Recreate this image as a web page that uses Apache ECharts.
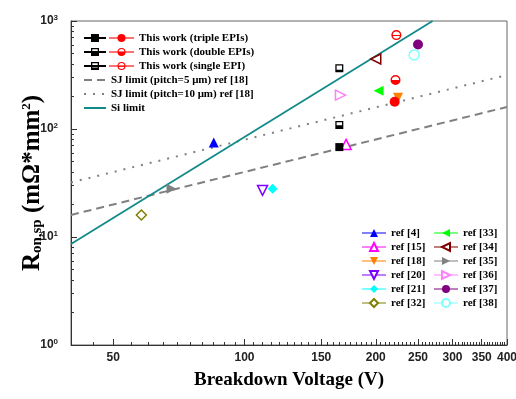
<!DOCTYPE html>
<html>
<head>
<meta charset="utf-8">
<script src="https://cdn.jsdelivr.net/npm/echarts@6/dist/echarts.min.js"></script>
<style>
  html, body { margin: 0; padding: 0; background: #fff; }
  #chart { width: 516px; height: 399px; }
</style>
</head>
<body>
<div id="chart"></div>
<script>
// values: [breakdown voltage (V), Ron,sp (mOhm*mm2)]
const xTicks = [50, 100, 150, 200, 250, 300, 350, 400];
const yTicks = [1, 10, 100, 1000];

const sqTriple = [165, 68];
const sqDouble = [165, 109];
const sqSingle = [165, 365];
const ciTriple = [221, 179];
const ciDouble = [222, 284];
const ciSingle = [223, 740];

const refNames = ['ref [4]', 'ref [15]', 'ref [18]', 'ref [20]', 'ref [21]', 'ref [32]',
  'ref [33]', 'ref [34]', 'ref [35]', 'ref [36]', 'ref [37]', 'ref [38]'];
const refBV = [85, 171, 225, 110, 116, 58, 203, 200, 68, 166, 250, 245];
const refRon = [75, 72, 195, 27, 28, 16, 226, 445, 28, 206, 605, 485];

const sj5 = [[40, 16], [400, 160]];
const sj10 = [[40, 32], [400, 316]];
const siLimit = [[40, 8.6], [270, 1000]];

// marker looks
const refColors = ['#0000ff', '#ff00ff', '#ff8000', '#8000ff', '#00ffff', '#808000',
  '#00ff00', '#800000', '#808080', '#ff80ff', '#800080', '#80ffff'];
const refSymbols = ['triangle', 'triangle', 'triangle', 'triangle', 'diamond', 'diamond',
  'triangle', 'triangle', 'triangle', 'triangle', 'circle', 'circle'];
const refRotate = [0, 0, 180, 180, 0, 0, 90, 90, -90, -90, 0, 0];
const refFilled = [true, false, true, false, true, false, true, false, true, false, true, false];

const minorX = [];
for (let v = 45; v < 400; v += 5) {
  if (xTicks.indexOf(v) < 0) minorX.push(v);
}
const minorY = [];
[1, 10, 100].forEach(d => {
  for (let k = 2; k <= 9; k++) minorY.push(k * d);
});

// half filled markers (frame + lower part)
const SQ_FULL = 'rect';
const SQ_HALF = 'path://M0,0H10V10H0Z M1.6,1.6V8.4H8.4V1.6Z M0,5.5H10V10H0Z';
const SQ_OPEN = 'path://M0,0H10V10H0Z M1.6,1.6V8.4H8.4V1.6Z M0,7H10V10H0Z';
const CI_HALF = 'path://M5,0A5,5 0 1,1 5,10A5,5 0 1,1 5,0Z M5,1.4A3.6,3.6 0 1,0 5,8.6A3.6,3.6 0 1,0 5,1.4Z M0,5H10A5,5 0 0,1 0,5Z';
const CI_OPEN = 'path://M5,0A5,5 0 1,1 5,10A5,5 0 1,1 5,0Z M5,1.4A3.6,3.6 0 1,0 5,8.6A3.6,3.6 0 1,0 5,1.4Z M0,5H10V6H0Z';

const serif = 'Liberation Serif';
const sans = 'Liberation Sans';

const workNames = ['This work (triple EPIs)', 'This work (double EPIs)', 'This work (single EPI)'];
const lineNames = ['SJ limit (pitch=5 \u03bcm) ref [18]', 'SJ limit (pitch=10 \u03bcm) ref [18]', 'Si limit'];

const series = [];

const addWork = (name, point, symbol, color, lineColor, size) => {
  series.push({
    name: name,
    type: 'line',
    data: [point],
    symbol: symbol,
    symbolSize: size,
    itemStyle: { color: color },
    lineStyle: { color: lineColor, width: 1.5 },
    z: 5
  });
};
addWork('sq-triple', sqTriple, SQ_FULL, '#000', '#000', 8);
addWork('sq-double', sqDouble, SQ_HALF, '#000', '#000', 8);
addWork('sq-single', sqSingle, SQ_OPEN, '#000', '#000', 8);
addWork(workNames[0], ciTriple, 'circle', '#ff0000', '#ff7070', 10);
addWork(workNames[1], ciDouble, CI_HALF, '#ff0000', '#ff7070', 10);
addWork(workNames[2], ciSingle, CI_OPEN, '#ff0000', '#ff7070', 10);

series.push({
  name: lineNames[0],
  type: 'line',
  data: sj5,
  symbol: 'none',
  itemStyle: { color: '#808080' },
  lineStyle: { color: '#808080', width: 2, type: [8, 5] },
  z: 2
});
series.push({
  name: lineNames[1],
  type: 'line',
  data: sj10,
  symbol: 'none',
  itemStyle: { color: '#808080' },
  lineStyle: { color: '#808080', width: 2, type: [2, 7] },
  z: 2
});
series.push({
  name: lineNames[2],
  type: 'line',
  data: siLimit,
  symbol: 'none',
  itemStyle: { color: '#138a8a' },
  lineStyle: { color: '#138a8a', width: 1.8 },
  z: 3
});

refNames.forEach((name, i) => {
  const c = refColors[i];
  series.push({
    name: name,
    type: 'line',
    data: [[refBV[i], refRon[i]]],
    symbol: refSymbols[i],
    symbolSize: 10,
    symbolRotate: refRotate[i],
    itemStyle: refFilled[i]
      ? { color: c }
      : { color: '#fff', borderColor: c, borderWidth: 1.5 },
    lineStyle: { color: c, width: 1.5, opacity: 0.5 },
    z: 4
  });
});

const legendText = {
  fontFamily: serif,
  fontWeight: 'bold',
  fontSize: 11,
  color: '#000',
  lineHeight: 14
};

const legendBase = {
  orient: 'vertical',
  padding: 0,
  itemGap: 0,
  itemHeight: 10,
  selectedMode: false,
  textStyle: legendText
};

// second axes only carry the short minor ticks
const minorAxisBits = {
  axisLine: { show: true, lineStyle: { color: 'rgba(0,0,0,0)' } },
  axisLabel: { show: true, formatter: () => '', color: 'rgba(0,0,0,0)' },
  splitLine: { show: false }
};

const option = {
  animation: false,
  backgroundColor: '#fff',
  grid: {
    left: 71,
    right: 9,
    top: 21,
    bottom: 54,
    outerBoundsMode: 'none',
    show: true,
    borderColor: '#666',
    borderWidth: 1
  },
  legend: [
    Object.assign({}, legendBase, {
      data: ['sq-triple', 'sq-double', 'sq-single'],
      left: 83,
      top: 31,
      itemWidth: 22,
      formatter: () => ' '
    }),
    Object.assign({}, legendBase, {
      data: workNames,
      left: 108,
      top: 31,
      itemWidth: 25
    }),
    Object.assign({}, legendBase, {
      data: lineNames.map(n => ({ name: n, itemStyle: { opacity: 0 } })),
      left: 83,
      top: 73,
      itemWidth: 22
    }),
    Object.assign({}, legendBase, {
      data: refNames.slice(0, 6),
      left: 361,
      top: 226,
      itemWidth: 24
    }),
    Object.assign({}, legendBase, {
      data: refNames.slice(6),
      left: 433,
      top: 226,
      itemWidth: 24
    })
  ],
  xAxis: [
    {
      type: 'log',
      logBase: 10,
      min: 40,
      max: 400,
      position: 'bottom',
      name: 'Breakdown Voltage (V)',
      nameLocation: 'middle',
      nameGap: 26,
      nameTextStyle: { fontFamily: serif, fontWeight: 'bold', fontSize: 19, color: '#000' },
      axisLine: { lineStyle: { color: '#333', width: 1 } },
      axisTick: { show: true, inside: true, length: 6, customValues: xTicks, lineStyle: { color: '#333' } },
      axisLabel: {
        customValues: xTicks,
        margin: 7,
        fontFamily: sans,
        fontWeight: 'bold',
        fontSize: 12,
        color: '#222'
      },
      splitLine: { show: false }
    },
    Object.assign({
      type: 'log',
      logBase: 10,
      min: 40,
      max: 400,
      position: 'bottom',
      axisTick: { show: true, inside: true, length: 3, customValues: minorX, lineStyle: { color: '#333', width: 1 } }
    }, minorAxisBits)
  ],
  yAxis: [
    {
      type: 'log',
      logBase: 10,
      min: 1,
      max: 1000,
      position: 'left',
      name: '{r|R}{sub|on,sp}{r| (m\u03a9*mm}{sup|2}{r|)}',
      nameLocation: 'middle',
      nameGap: 26,
      nameMoveOverlap: false,
      nameRotate: 90,
      nameTextStyle: {
        rich: {
          r: { fontFamily: serif, fontWeight: 'bold', fontSize: 25, color: '#000' },
          sub: { fontFamily: serif, fontWeight: 'bold', fontSize: 15, color: '#000', verticalAlign: 'bottom', padding: [10, 0, 0, 0] },
          sup: { fontFamily: serif, fontWeight: 'bold', fontSize: 13, color: '#000', verticalAlign: 'top', padding: [0, 0, 3, 0] }
        }
      },
      axisLine: { lineStyle: { color: '#333', width: 1 } },
      axisTick: { show: true, inside: true, length: 6, customValues: yTicks, lineStyle: { color: '#333' } },
      axisLabel: {
        customValues: yTicks,
        margin: 13,
        formatter: v => '{b|10}{s|' + Math.round(Math.log10(v)) + '}',
        rich: {
          b: { fontFamily: sans, fontWeight: 'bold', fontSize: 12, color: '#222' },
          s: { fontFamily: sans, fontWeight: 'bold', fontSize: 8, color: '#222', verticalAlign: 'top', padding: [0, 0, 6, 0] }
        }
      },
      splitLine: { show: false }
    },
    Object.assign({
      type: 'log',
      logBase: 10,
      min: 1,
      max: 1000,
      position: 'left',
      axisTick: { show: true, inside: true, length: 3, customValues: minorY, lineStyle: { color: '#333', width: 1 } }
    }, minorAxisBits)
  ],
  series: series
};

const chart = echarts.init(document.getElementById('chart'), null, { renderer: 'canvas' });
chart.setOption(option);
</script>
</body>
</html>
